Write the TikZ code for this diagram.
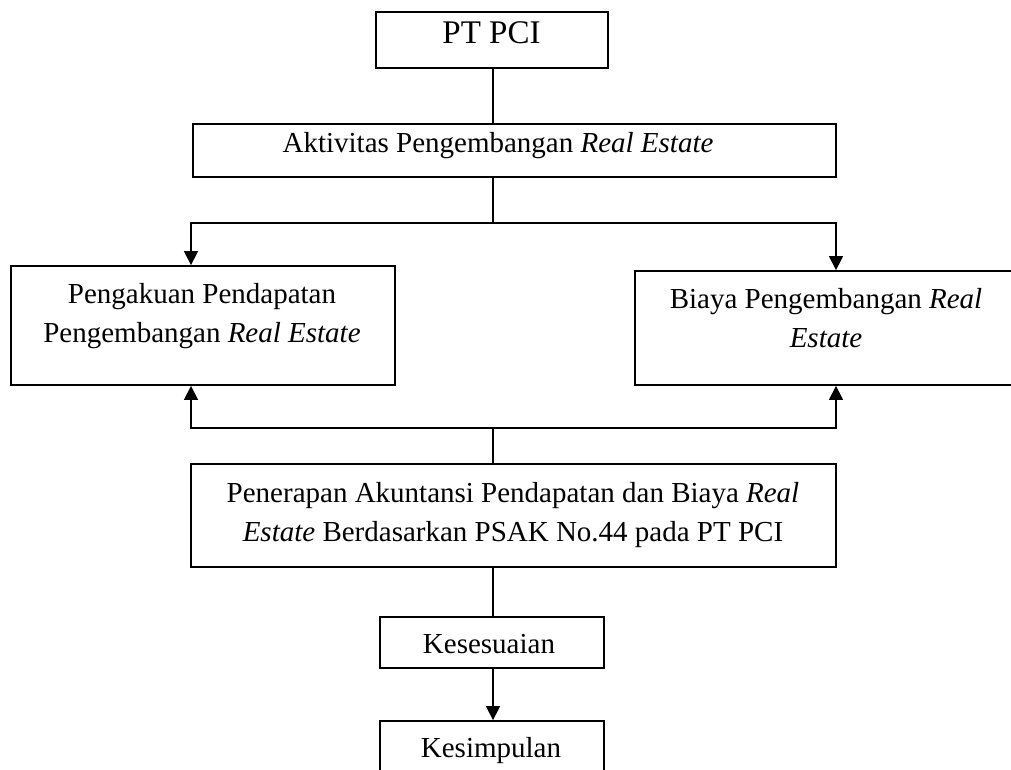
\documentclass[tikz,border=0pt]{standalone}
\usepackage{fontspec}
\setmainfont{Liberation Serif}
\usetikzlibrary{arrows.meta}
\begin{document}
\begin{tikzpicture}[x=1pt,y=-1pt,
  box/.style={draw, line width=1.8pt, rectangle, inner sep=0pt},
  conn/.style={line width=1.4pt},
  arr/.style={conn, -{Triangle[width=14pt,length=14pt]}},
  txt/.style={anchor=base, inner sep=0pt, font=\fontsize{29}{39}\selectfont},
  bigtxt/.style={anchor=base, inner sep=0pt, font=\fontsize{33}{40}\selectfont}]
\useasboundingbox (0,0) rectangle (1011,769);
\clip (0,0) rectangle (1011,769);
% boxes
\node[box, minimum width=232pt, minimum height=56pt] (pt) at (492,40) {};
\node[box, minimum width=643pt, minimum height=53pt] (akt) at (514.5,150.5) {};
\node[box, minimum width=384pt, minimum height=119pt] (left) at (203,325.5) {};
\node[box, minimum width=382pt, minimum height=114pt] (right) at (826,328) {};
\node[box, minimum width=645pt, minimum height=103pt] (pen) at (513.5,515.5) {};
\node[box, minimum width=224pt, minimum height=51pt] (kes) at (492,642.5) {};
\node[box, minimum width=224pt, minimum height=79pt] (kesim) at (492,760.5) {};
% texts
\node[bigtxt] (tpt) at (491.5,43) {PT PCI};
\node[txt] (takt) at (498,152) {Aktivitas Pengembangan \textit{Real Estate}};
\node[txt] (tl1) at (202,303) {Pengakuan Pendapatan};
\node[txt] (tl2) at (202,342) {Pengembangan \textit{Real Estate}};
\node[txt] (tr1) at (826,308) {Biaya Pengembangan \textit{Real}};
\node[txt] (tr2) at (826,347) {\textit{Estate}};
\node[txt] (tp1) at (513,502) {Penerapan Akuntansi Pendapatan dan Biaya \textit{Real}};
\node[txt] (tp2) at (513,541) {\textit{Estate} Berdasarkan PSAK No.44 pada PT PCI};
\node[txt] (tkes) at (489,653) {Kesesuaian};
\node[txt] (tkesim) at (491,757) {Kesimpulan};
% connectors
\coordinate (j1) at (493,223);
\coordinate (j2) at (493,428);
\coordinate (aL) at (191,0);
\coordinate (aR) at (836,0);
\draw[conn] (pt.south -| j1) -- (akt.north -| j1);
\draw[conn] (akt.south -| j1) -- (j1);
\draw[arr] (j1) -| (aL |- left.north);
\draw[arr] (j1) -| (aR |- right.north);
\draw[conn] (pen.north -| j2) -- (j2);
\draw[arr] (j2) -| (aL |- left.south);
\draw[arr] (j2) -| (aR |- right.south);
\draw[conn] (pen.south -| j2) -- (kes.north -| j2);
\draw[arr] (kes.south -| j2) -- (kesim.north -| j2);
\end{tikzpicture}
\end{document}
